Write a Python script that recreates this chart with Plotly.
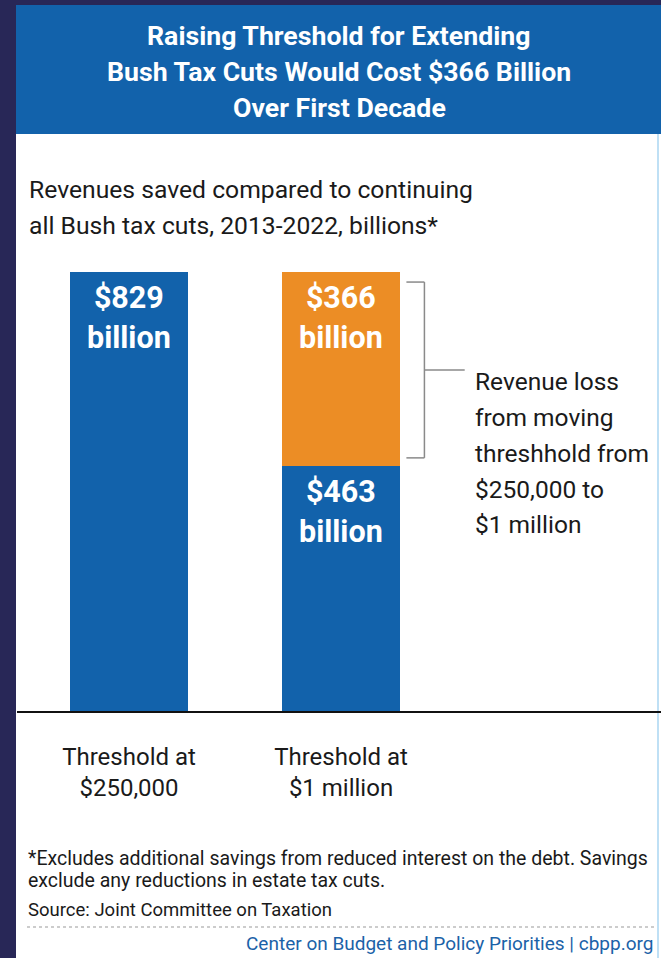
import plotly.graph_objects as go

# ---- data ----
categories = ["Threshold at<br>$250,000", "Threshold at<br>$1 million"]
base_values = [829, 463]          # blue segments (billions)
extra_values = [0, 366]           # orange segment (billions)
title_lines = ["Raising Threshold for Extending",
               "Bush Tax Cuts Would Cost $366 Billion",
               "Over First Decade"]
subtitle_lines = ["Revenues saved compared to continuing",
                  "all Bush tax cuts, 2013-2022, billions*"]
note_lines = ["Revenue loss", "from moving", "threshhold from", "$250,000 to", "$1 million"]
footnote_lines = ["*Excludes additional savings from reduced interest on the debt. Savings",
                  "exclude any reductions in estate tax cuts."]
source = "Source: Joint Committee on Taxation"
credit = "Center on Budget and Policy Priorities | cbpp.org"

# ---- style ----
W, H = 661, 958
NAVY = "#282757"
BLUE = "#1262ab"
ORANGE = "#ec8d25"
FONT = "Roboto, Liberation Sans, Arial, sans-serif"
TXT = "#1a1a1a"

def fx(p):
    return p / W

def fy(p):
    return 1 - p / H

x_pos = list(range(len(categories)))
bar_w = 0.557

fig = go.Figure()
fig.add_bar(x=x_pos, y=base_values, width=bar_w, marker_color=BLUE,
            marker_line_width=0, hoverinfo="skip")
fig.add_bar(x=x_pos, y=extra_values, width=bar_w, marker_color=ORANGE,
            marker_line_width=0, hoverinfo="skip")

shapes = []
shapes.append(dict(type="rect", xref="paper", yref="paper", x0=fx(16), x1=fx(661),
                   y0=fy(958), y1=fy(5), fillcolor="white", line_width=0, layer="below"))
shapes.append(dict(type="line", xref="paper", yref="paper", x0=fx(658), x1=fx(658),
                   y0=fy(958), y1=fy(134), line=dict(color="#bfe0f5", width=2), layer="below"))
shapes.append(dict(type="rect", xref="paper", yref="paper", x0=fx(16), x1=fx(661),
                   y0=fy(134), y1=fy(5), fillcolor=BLUE, line_width=0, layer="below"))
shapes.append(dict(type="line", xref="paper", yref="paper", x0=fx(27), x1=fx(655),
                   y0=fy(927), y1=fy(927), line=dict(color="#999999", width=1, dash="dot")))

# bracket around the orange segment (data coords)
right_edge = 1 + bar_w / 2
low = base_values[1] + 15
high = base_values[1] + extra_values[1] - 19
bx0, bx1 = right_edge + 0.03, right_edge + 0.115
mid = (low + high) / 2
bcol = "#8a8a8a"
for seg in [(bx0, high, bx1, high), (bx1, high, bx1, low), (bx1, low, bx0, low),
            (bx1, mid, right_edge + 0.305, mid)]:
    shapes.append(dict(type="line", xref="x", yref="y", x0=seg[0], y0=seg[1],
                       x1=seg[2], y1=seg[3], line=dict(color=bcol, width=1.5)))

annotations = []
for i, t in enumerate(title_lines):
    annotations.append(dict(text="<b>" + t + "</b>", xref="paper", yref="paper",
                            x=fx(339), y=fy(35.5 + 36.5 * i), xanchor="center", yanchor="middle",
                            showarrow=False, font=dict(family=FONT, size=26.7, color="white")))
for i, t in enumerate(subtitle_lines):
    annotations.append(dict(text=t, xref="paper", yref="paper", x=fx(27), y=fy(190 + 35 * i),
                            xanchor="left", yanchor="middle", align="left", showarrow=False,
                            font=dict(family=FONT, size=24.7, color=TXT)))
tops = [base_values[0], base_values[1], base_values[1] + extra_values[1]]
vals = [base_values[0], base_values[1], extra_values[1]]
xs = [0, 1, 1]
for xv, top, v in zip(xs, tops, vals):
    annotations.append(dict(text="<b>$%d<br>billion</b>" % v, x=xv, y=top, xref="x", yref="y",
                            xanchor="center", yanchor="top", yshift=-6, showarrow=False,
                            align="center", font=dict(family=FONT, size=30.5, color="white")))
for i, t in enumerate(note_lines):
    annotations.append(dict(text=t, x=right_edge + 0.345, y=fy(382 + 35.7 * i),
                            xref="x", yref="paper", xanchor="left", yanchor="middle",
                            align="left", showarrow=False,
                            font=dict(family=FONT, size=24.5, color=TXT)))
for i, t in enumerate(footnote_lines):
    annotations.append(dict(text=t, xref="paper", yref="paper", x=fx(26), y=fy(858 + 22 * i),
                            xanchor="left", yanchor="middle", align="left", showarrow=False,
                            font=dict(family=FONT, size=19.5, color=TXT)))
annotations.append(dict(text=source, xref="paper", yref="paper", x=fx(26), y=fy(910),
                        xanchor="left", yanchor="middle", align="left", showarrow=False,
                        font=dict(family=FONT, size=18.5, color=TXT)))
annotations.append(dict(text=credit, xref="paper", yref="paper", x=fx(655), y=fy(943),
                        xanchor="right", yanchor="middle", showarrow=False,
                        font=dict(family=FONT, size=19, color="#1b62a8")))

px_per_unit = 212.0
x_lo = -(129 - 17) / px_per_unit
x_hi = x_lo + (661 - 17) / px_per_unit
y_scale = (711 - 272) / base_values[0]

fig.update_layout(
    width=W, height=H, margin=dict(l=0, r=0, t=0, b=0),
    paper_bgcolor=NAVY, plot_bgcolor="rgba(0,0,0,0)",
    barmode="stack", bargap=0, showlegend=False,
    shapes=shapes, annotations=annotations,
    xaxis=dict(domain=[fx(17), 1], range=[x_lo, x_hi], tickvals=x_pos, ticktext=categories,
               showgrid=False, zeroline=False, showline=True, linecolor="#111111", linewidth=2,
               ticks="outside", ticklen=23, tickcolor="rgba(0,0,0,0)", automargin=False,
               tickfont=dict(family=FONT, size=24, color=TXT), fixedrange=True),
    yaxis=dict(domain=[fy(711), 1], range=[0, 711 / y_scale], visible=False,
               showgrid=False, zeroline=False, fixedrange=True),
)

fig.write_html("out.html", config={"displayModeBar": False},
               post_script="document.body.style.margin='0';"
                           "document.body.style.background='#282757';")
